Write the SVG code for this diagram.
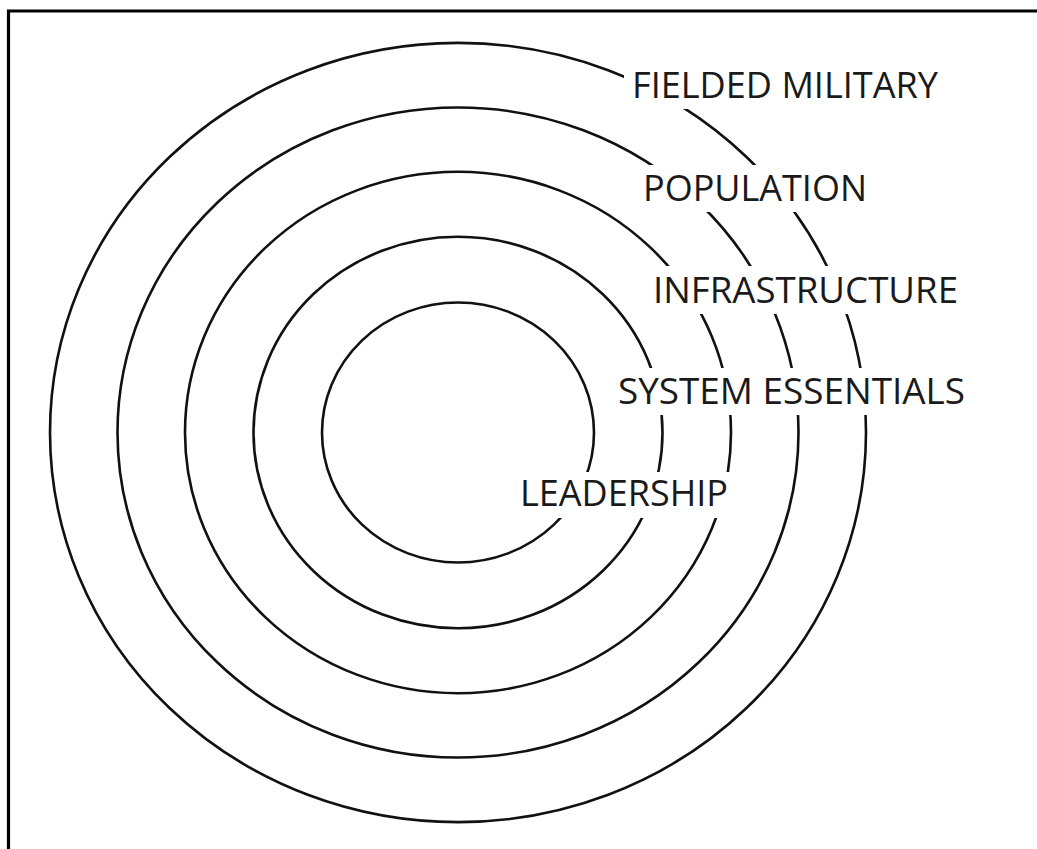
<svg xmlns="http://www.w3.org/2000/svg" width="1037" height="849" viewBox="0 0 1037 849">
  <style>
    .ring { fill: none; stroke: #111; stroke-width: 2.6; }
    .label { font-family: "Open Sans", "Liberation Sans", sans-serif; font-size: 37px; fill: #1a1a1a; }
    .frame { fill: none; stroke: #000; stroke-width: 3.2; }
  </style>
  <defs>
    <mask id="labelGaps" maskUnits="userSpaceOnUse" x="0" y="0" width="1037" height="849">
      <rect x="0" y="0" width="1037" height="849" fill="#fff"/>
      <rect x="624" y="60" width="322" height="49" fill="#000"/>
      <rect x="640" y="165" width="235" height="47" fill="#000"/>
      <rect x="645" y="266" width="320" height="48" fill="#000"/>
      <rect x="610" y="368" width="362" height="47" fill="#000"/>
      <rect x="512" y="472" width="222" height="46" fill="#000"/>
    </mask>
  </defs>
  <rect x="0" y="0" width="1037" height="849" fill="#fff"/>
  <path class="frame" d="M8.5 849 V11 H1037"/>
  <g id="rings" mask="url(#labelGaps)">
    <g id="fielded-military"><ellipse class="ring" cx="458" cy="432.5" rx="408" ry="389.6"/></g>
    <g id="population"><ellipse class="ring" cx="458" cy="432.5" rx="340.5" ry="325"/></g>
    <g id="infrastructure"><ellipse class="ring" cx="458" cy="432.5" rx="273" ry="260.7"/></g>
    <g id="system-essentials"><ellipse class="ring" cx="458" cy="432.5" rx="204.5" ry="195.8"/></g>
    <g id="leadership"><ellipse class="ring" cx="458" cy="432.5" rx="136" ry="130"/></g>
  </g>
  <g id="connectors"></g>
  <g id="labels">
    <text class="label" x="632" y="98" textLength="306" lengthAdjust="spacingAndGlyphs">FIELDED MILITARY</text>
    <text class="label" x="643" y="201" textLength="224" lengthAdjust="spacingAndGlyphs">POPULATION</text>
    <text class="label" x="653" y="303" textLength="305" lengthAdjust="spacingAndGlyphs">INFRASTRUCTURE</text>
    <text class="label" x="618" y="404" textLength="347" lengthAdjust="spacingAndGlyphs">SYSTEM ESSENTIALS</text>
    <text class="label" x="520" y="506" textLength="208" lengthAdjust="spacingAndGlyphs">LEADERSHIP</text>
  </g>
</svg>
